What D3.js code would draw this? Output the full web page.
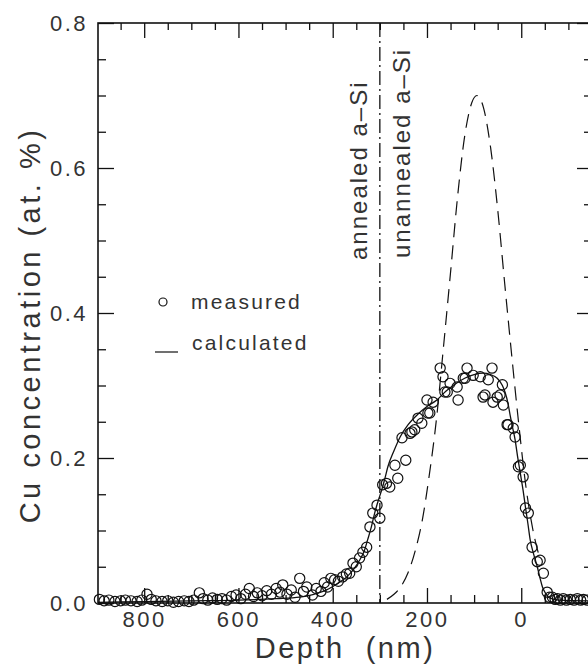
<!DOCTYPE html>
<html>
<head>
<meta charset="utf-8">
<script src="https://cdn.jsdelivr.net/npm/d3@7"></script>
<style>
    body { margin: 0; background: #fff; }
    svg { display: block; }
    text { font-family: "Liberation Sans", "DejaVu Sans", sans-serif; fill: #333; }
</style>
</head>
<body>
<svg id="chart" width="588" height="666"></svg>
<script>
// measured SIMS points (depth nm, Cu at.%)
var measuredDepth = [895, 885, 875, 862, 850, 840, 828, 815, 805, 794, 785, 775, 762, 750, 738, 727, 715, 705, 695, 683,
    675, 665, 655, 645, 635, 625, 615, 605, 595, 585, 577, 568, 560, 550, 540, 530, 520, 512, 506, 497,
    488, 480, 470, 462, 455, 443, 435, 425, 418, 411, 404, 396, 388, 379, 371, 364, 357, 350, 343, 336,
    328, 321, 315, 306, 300, 294, 286, 279, 268, 262, 253, 245, 236, 232, 226, 219, 211, 200, 198, 194,
    187, 172, 166, 162, 157, 151, 136, 134, 123, 119, 115, 102, 87, 81, 77, 70, 62, 60, 51, 45,
    40, 38, 30, 28, 17, 13, 6, 2, -4, -9, -15, -23, -34, -40, -47, -55, -60, -66, -72, -77,
    -83, -89, -96, -104, -112, -119, -126, -132, -140];
var measuredConc = [0.005, 0.003, 0.004, 0.002, 0.003, 0.004, 0.003, 0.002, 0.004, 0.012, 0.005, 0.003, 0.002, 0.003, 0.001, 0.002, 0.003, 0.002, 0.004, 0.014,
    0.006, 0.004, 0.007, 0.005, 0.006, 0.004, 0.009, 0.011, 0.006, 0.012, 0.020, 0.009, 0.014, 0.010, 0.017, 0.012, 0.020, 0.015, 0.025, 0.012,
    0.018, 0.008, 0.034, 0.016, 0.022, 0.011, 0.020, 0.016, 0.028, 0.022, 0.034, 0.032, 0.030, 0.036, 0.040, 0.041, 0.055, 0.050, 0.062, 0.070,
    0.077, 0.105, 0.124, 0.135, 0.117, 0.163, 0.165, 0.160, 0.190, 0.172, 0.228, 0.197, 0.234, 0.236, 0.239, 0.255, 0.248, 0.280, 0.262, 0.262,
    0.277, 0.324, 0.312, 0.291, 0.291, 0.303, 0.298, 0.280, 0.310, 0.310, 0.324, 0.314, 0.312, 0.284, 0.287, 0.308, 0.324, 0.277, 0.284, 0.287,
    0.301, 0.273, 0.246, 0.246, 0.241, 0.229, 0.188, 0.190, 0.174, 0.131, 0.124, 0.077, 0.057, 0.059, 0.041, 0.015, 0.008, 0.008, 0.005, 0.006,
    0.004, 0.006, 0.004, 0.005, 0.004, 0.006, 0.004, 0.005, 0.004];

// fitted profile (solid)
var fitDepth = [898, 800, 700, 600, 520, 470, 440, 413, 390, 370, 355, 343, 333, 326, 318, 311, 303, 296, 290, 283,
    270, 257, 240, 220, 200, 179, 160, 140, 120, 100, 81, 65, 51, 40, 34, 28, 23, 18, 13, 8,
    2, -4, -9, -14, -19, -26, -34, -40, -45, -51, -60, -80, -148];
var fitConc = [0.001, 0.002, 0.003, 0.004, 0.006, 0.008, 0.012, 0.018, 0.027, 0.036, 0.047, 0.059, 0.072, 0.087, 0.105, 0.124, 0.142, 0.156, 0.170, 0.188,
    0.210, 0.229, 0.246, 0.260, 0.271, 0.280, 0.292, 0.302, 0.310, 0.315, 0.317, 0.315, 0.310, 0.300, 0.290, 0.275, 0.257, 0.241, 0.225, 0.203,
    0.179, 0.155, 0.132, 0.110, 0.087, 0.068, 0.050, 0.034, 0.022, 0.014, 0.007, 0.004, 0.003];

// calculated as-implanted profile (dashed)
var calcDepth = [285, 270, 255, 240, 225, 210, 195, 180, 165, 150, 135, 120, 105, 94, 80, 65, 50, 35, 20, 5, -10, -25, -40];
var calcConc = [0.005, 0.012, 0.023, 0.042, 0.072, 0.114, 0.177, 0.253, 0.353, 0.456, 0.561, 0.644, 0.690, 0.700, 0.683, 0.628, 0.543, 0.440, 0.340, 0.245, 0.160, 0.100, 0.060];

var interfaceDepth = 300;
var xMajorTicks = [800, 600, 400, 200, 0];
var yMajorTicks = [0.0, 0.2, 0.4, 0.6, 0.8];

// set the dimensions of the graph
var margin = { "left": 98, "top": 23 };
var plotRight = 591, plotBottom = 603;

var svg = d3.select("#chart");

var x = d3.scaleLinear()
    .domain([898, -148])
    .range([margin.left, plotRight]);

var y = d3.scaleLinear()
    .domain([0, 0.8])
    .range([plotBottom, margin.top]);

// minor ticks
var xMinor = d3.range(850, -150, -50).filter(d => xMajorTicks.indexOf(d) < 0);
var yMinor = d3.range(0.05, 0.8, 0.05).filter(d => Math.abs(Math.round(d * 5) - d * 5) > 0.01);

// bottom axis
svg.append("g")
    .attr("transform", "translate(0," + plotBottom + ")")
    .call(d3.axisBottom(x).tickValues(xMajorTicks).tickSize(-15).tickPadding(8).tickFormat(d3.format("d")))
    .call(g => g.select(".domain").remove());
svg.append("g")
    .attr("transform", "translate(0," + plotBottom + ")")
    .call(d3.axisBottom(x).tickValues(xMinor).tickSize(-8).tickFormat(""))
    .call(g => g.select(".domain").remove());

// top axis
svg.append("g")
    .attr("transform", "translate(0," + margin.top + ")")
    .call(d3.axisTop(x).tickValues(xMajorTicks).tickSize(-15).tickFormat(""))
    .call(g => g.select(".domain").remove());
svg.append("g")
    .attr("transform", "translate(0," + margin.top + ")")
    .call(d3.axisTop(x).tickValues(xMinor).tickSize(-7).tickFormat(""))
    .call(g => g.select(".domain").remove());

// left axis
svg.append("g")
    .attr("transform", "translate(" + margin.left + ",0)")
    .call(d3.axisLeft(y).tickValues(yMajorTicks).tickSize(-16).tickPadding(10).tickFormat(d3.format(".1f")))
    .call(g => g.select(".domain").remove());
svg.append("g")
    .attr("transform", "translate(" + margin.left + ",0)")
    .call(d3.axisLeft(y).tickValues(yMinor).tickSize(-8).tickFormat(""))
    .call(g => g.select(".domain").remove());

// right axis
svg.append("g")
    .attr("transform", "translate(" + plotRight + ",0)")
    .call(d3.axisRight(y).tickValues(yMajorTicks).tickSize(-14).tickFormat(""))
    .call(g => g.select(".domain").remove());
svg.append("g")
    .attr("transform", "translate(" + plotRight + ",0)")
    .call(d3.axisRight(y).tickValues(yMinor).tickSize(-7).tickFormat(""))
    .call(g => g.select(".domain").remove());

svg.selectAll(".tick line").attr("stroke", "#111").attr("stroke-width", 1.3);
svg.selectAll(".tick text")
    .style("font-size", "22px")
    .style("letter-spacing", "2.5px")
    .attr("fill", "#333");

// frame
svg.append("rect")
    .attr("x", margin.left)
    .attr("y", margin.top)
    .attr("width", plotRight - margin.left)
    .attr("height", plotBottom - margin.top)
    .attr("fill", "none")
    .attr("stroke", "#111")
    .attr("stroke-width", 1.6);

// interface line
svg.append("line")
    .attr("x1", x(interfaceDepth)).attr("x2", x(interfaceDepth))
    .attr("y1", y(0.8)).attr("y2", y(0))
    .attr("stroke", "#111")
    .attr("stroke-width", 1.3)
    .attr("stroke-dasharray", "14,4,2,4");

// calculated (dashed)
var calcLine = d3.line()
    .x((d, i) => x(calcDepth[i]))
    .y(d => y(d))
    .curve(d3.curveMonotoneX);
svg.append("path")
    .attr("d", calcLine(calcConc))
    .attr("fill", "none")
    .attr("stroke", "#111")
    .attr("stroke-width", 1.2)
    .attr("stroke-dasharray", "14,8");

// fit (solid)
var fitLine = d3.line()
    .x((d, i) => x(fitDepth[i]))
    .y(d => y(d))
    .curve(d3.curveMonotoneX);
svg.append("path")
    .attr("d", fitLine(fitConc))
    .attr("fill", "none")
    .attr("stroke", "#111")
    .attr("stroke-width", 1.3);

// measured circles
svg.append("g")
    .selectAll("circle")
    .data(measuredConc)
    .join("circle")
    .attr("cx", (d, i) => x(measuredDepth[i]))
    .attr("cy", d => y(d))
    .attr("r", 5.1)
    .attr("fill", "none")
    .attr("stroke", "#111")
    .attr("stroke-width", 1.2);

// layer labels
svg.append("text")
    .attr("transform", "translate(367,260) rotate(-90)")
    .style("font-size", "24px")
    .style("letter-spacing", "2px")
    .text("annealed a\u2013Si");
svg.append("text")
    .attr("transform", "translate(410,258) rotate(-90)")
    .style("font-size", "24px")
    .style("letter-spacing", "2px")
    .text("unannealed a\u2013Si");

// legend
svg.append("circle")
    .attr("cx", 163).attr("cy", 302).attr("r", 4)
    .attr("fill", "none").attr("stroke", "#111").attr("stroke-width", 1.2);
svg.append("text")
    .attr("x", 191).attr("y", 309)
    .style("font-size", "21px")
    .style("letter-spacing", "2.2px")
    .text("measured");
svg.append("line")
    .attr("x1", 155).attr("x2", 178)
    .attr("y1", 352).attr("y2", 352)
    .attr("stroke", "#111").attr("stroke-width", 1.2);
svg.append("text")
    .attr("x", 192).attr("y", 350)
    .style("font-size", "21px")
    .style("letter-spacing", "2.2px")
    .text("calculated");

// axis titles
svg.append("text")
    .attr("x", 345).attr("y", 658)
    .attr("text-anchor", "middle")
    .style("font-size", "29px")
    .style("letter-spacing", "2.5px")
    .attr("xml:space", "preserve")
    .text("Depth  (nm)");
svg.append("text")
    .attr("transform", "translate(40,325) rotate(-90)")
    .attr("text-anchor", "middle")
    .style("font-size", "29px")
    .style("letter-spacing", "3.5px")
    .text("Cu concentration (at. %)");
</script>
</body>
</html>
